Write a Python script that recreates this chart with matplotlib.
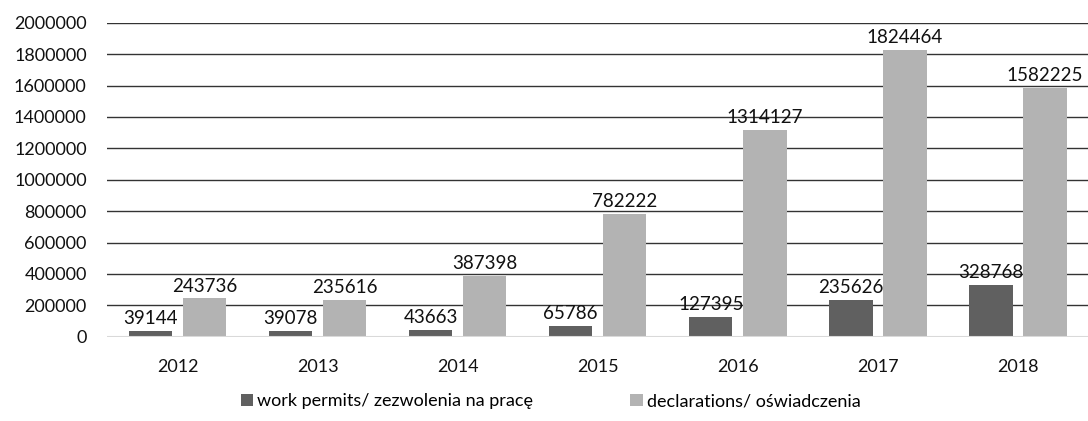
import matplotlib.pyplot as plt
import numpy as np

plt.rcParams['font.family'] = ['Lato', 'DejaVu Sans']

years = ['2012', '2013', '2014', '2015', '2016', '2017', '2018']
work_permits = [39144, 39078, 43663, 65786, 127395, 235626, 328768]
declarations = [243736, 235616, 387398, 782222, 1314127, 1824464, 1582225]

dark = '#606060'
light = '#b3b3b3'

fig = plt.figure(figsize=(10.88, 4.21), dpi=100)
ax = fig.add_axes([0.0988, 0.2002, 0.9012, 0.7458])

x = np.arange(len(years))
w = 0.31
off = 0.193
b1 = ax.bar(x - off, work_permits, w, color=dark, label='work permits/ zezwolenia na pracę', zorder=3)
b2 = ax.bar(x + off, declarations, w, color=light, label='declarations/ oświadczenia', zorder=3)

for bars, vals in ((b1, work_permits), (b2, declarations)):
    for r, v in zip(bars, vals):
        ax.text(r.get_x() + r.get_width() / 2, v + 25000, str(v),
                ha='center', va='bottom', fontsize=13.5, color='#111111')

ax.set_xlim(-0.5, len(years) - 0.5)
ax.set_ylim(0, 2000000)
ax.set_yticks(np.arange(0, 2000001, 200000))
ax.set_yticklabels([str(v) for v in range(0, 2000001, 200000)])
ax.set_xticks(x)
ax.set_xticklabels(years)
ax.tick_params(axis='both', length=0, labelsize=13, colors='#111111')
ax.tick_params(axis='y', pad=15)
ax.tick_params(axis='x', pad=16)

for s in ax.spines.values():
    s.set_visible(False)
ax.yaxis.grid(True, color='#333333', linewidth=1.0, zorder=0)
ax.axhline(0, color='#d9d9d9', linewidth=1.5, zorder=4)
ax.set_axisbelow(True)

fig.legend(loc='center', bbox_to_anchor=(0.506, 0.047), ncol=2, frameon=False,
           fontsize=13, handlelength=0.7, handleheight=0.7, handletextpad=0.2,
           columnspacing=5.4)

fig.savefig('out.png', dpi=100)
